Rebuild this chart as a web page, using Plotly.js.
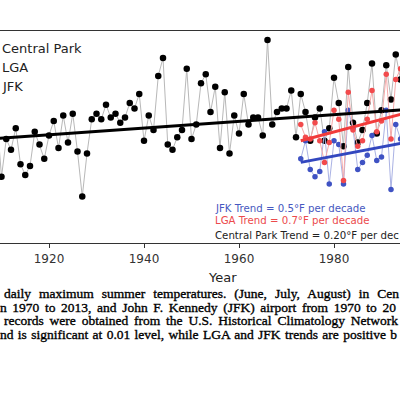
<!DOCTYPE html>
<html>
<head>
<meta charset="utf-8">
<script src="https://cdn.plot.ly/plotly-3.0.1.min.js"></script>
<style>
  html, body { margin:0; padding:0; background:#fff; overflow:hidden; }
  #chart { position:absolute; left:0; top:0; width:400px; height:400px; }
  #caption { position:absolute; left:0; top:0; width:400px; height:400px; overflow:hidden; pointer-events:none; }
  .capline { position:absolute; font-family:'Liberation Serif', 'DejaVu Serif', serif; font-size:13.5px; line-height:14px; color:#000; -webkit-text-stroke:0.35px #000; text-align:justify; text-align-last:justify; white-space:normal; }
</style>
</head>
<body>
<div id="chart"></div>
<div id="caption"></div>
<script>
// ---- Data ----
const cpYears = [1909,1910,1911,1912,1913,1914,1915,1916,1917,1918,1919,
  1920,1921,1922,1923,1924,1925,1926,1927,1928,1929,
  1930,1931,1932,1933,1934,1935,1936,1937,1938,1939,
  1940,1941,1942,1943,1944,1945,1946,1947,1948,1949,
  1950,1951,1952,1953,1954,1955,1956,1957,1958,1959,
  1960,1961,1962,1963,1964,1965,1966,1967,1968,1969,
  1970,1971,1972,1973,1974,1975,1976,1977,1978,1979,
  1980,1981,1982,1983,1984,1985,1986,1987,1988,1989,
  1990,1991,1992,1993,1994];
const cpTemps = [83.3,79.9,82.0,81.4,82.6,80.6,80.0,80.5,82.4,81.7,80.9,
  82.2,83.0,81.5,83.3,81.8,83.4,81.3,78.8,81.2,83.1,
  83.4,83.1,83.9,83.2,83.4,82.9,83.2,84.0,83.7,84.5,
  81.9,83.3,82.5,85.5,86.5,81.7,81.4,82.1,82.5,85.9,
  82.0,82.8,85.1,85.6,83.5,84.9,81.5,84.6,81.2,83.3,
  82.3,84.5,82.8,83.2,83.2,82.2,87.5,82.8,83.5,83.7,
  83.7,84.7,82.1,84.5,83.5,81.9,83.2,83.7,81.9,82.6,
  85.4,84.0,81.6,86.0,82.9,81.8,82.5,84.0,86.2,82.3,
  83.6,86.1,84.2,86.7,85.3];

const airportYears = [1973,1974,1975,1976,1977,1978,1979,1980,1981,1982,1983,
  1984,1985,1986,1987,1988,1989,1990,1991,1992,1993,1994];
const lgaTemps = [82.8,82.1,82.0,82.9,81.9,80.7,81.8,83.6,83.1,79.7,84.6,
  82.5,81.6,81.9,83.1,84.7,82.4,83.0,85.6,82.0,85.3,85.9];
const jfkTemps = [80.9,81.9,80.3,79.9,80.2,82.4,79.5,81.9,81.7,79.5,83.6,
  82.6,80.3,80.7,81.1,82.2,80.8,81.0,83.6,79.2,82.8,82.0];

const cpTrendYears = [1900, 2013];
const cpTrendTemps = [81.86, 83.97];
const lgaTrendYears = [1973, 2013];
const lgaTrendTemps = [81.9, 84.7];
const jfkTrendYears = [1973, 2013];
const jfkTrendTemps = [80.7, 82.7];

const tickYears = [1920, 1940, 1960, 1980, 2000];
const legendNames = ['Central Park', 'LGA', 'JFK'];
const trendTexts = ['JFK Trend = 0.5°F per decade', 'LGA Trend = 0.7°F per decade', 'Central Park Trend = 0.20°F per dec'];
const xTitle = 'Year';

// ---- Layout helpers ----
const PLOT_TOP = 31, PLOT_BOTTOM = 243, PLOT_W = 400;
function py(p) { return (PLOT_BOTTOM - p) / (PLOT_BOTTOM - PLOT_TOP); }
function px(p) { return p / PLOT_W; }

const traces = [
  { x: cpYears, y: cpTemps, mode: 'lines+markers', type: 'scatter',
    line: { color: '#b8b8b8', width: 1 }, marker: { color: '#000', size: 6.5 } },
  { x: airportYears, y: jfkTemps, mode: 'lines+markers', type: 'scatter',
    line: { color: '#aab2e4', width: 1 }, marker: { color: '#3f52c3', size: 5.5 } },
  { x: airportYears, y: lgaTemps, mode: 'lines+markers', type: 'scatter',
    line: { color: '#f5a9a9', width: 1 }, marker: { color: '#f24a4c', size: 5.5 } },
  { x: cpTrendYears, y: cpTrendTemps, mode: 'lines', type: 'scatter',
    line: { color: '#000', width: 3 } },
  { x: lgaTrendYears, y: lgaTrendTemps, mode: 'lines', type: 'scatter',
    line: { color: '#f23b3b', width: 3 } },
  { x: jfkTrendYears, y: jfkTrendTemps, mode: 'lines', type: 'scatter',
    line: { color: '#3347bf', width: 3 } }
];

const annFont = 'DejaVu Sans, sans-serif';
const annotations = [
  { text: legendNames[0], x: px(-0.5), y: py(48.2), color: '#222', size: 13 },
  { text: legendNames[1], x: px(-0.5), y: py(67.2), color: '#222', size: 13 },
  { text: legendNames[2], x: px(-0.5), y: py(86.5), color: '#222', size: 13 },
  { text: trendTexts[0], x: px(213), y: py(208.3), color: '#4658c0', size: 10.2 },
  { text: trendTexts[1], x: px(213), y: py(220.8), color: '#ec4a4c', size: 10.2 },
  { text: trendTexts[2], x: px(213), y: py(235.6), color: '#222', size: 10.2 }
].map(a => ({
  text: a.text, x: a.x, y: a.y, xref: 'paper', yref: 'paper',
  xanchor: 'left', yanchor: 'middle', showarrow: false,
  font: { family: annFont, size: a.size, color: a.color }
}));
annotations.push({
  text: xTitle, x: px(222.7), y: py(277.2), xref: 'paper', yref: 'paper',
  xanchor: 'center', yanchor: 'middle', showarrow: false,
  font: { family: annFont, size: 13, color: '#222' }
});

const layout = {
  width: 400, height: 400,
  margin: { l: 0, r: 0, t: PLOT_TOP, b: 400 - PLOT_BOTTOM, pad: 0 },
  paper_bgcolor: '#fff', plot_bgcolor: '#fff',
  showlegend: false,
  font: { family: annFont, color: '#222' },
  xaxis: {
    range: [1909.684, 1993.895], showline: true, mirror: true,
    linecolor: '#333', linewidth: 1.3, ticks: 'outside', ticklen: 4,
    tickwidth: 1, tickcolor: '#333', tickvals: tickYears,
    ticktext: tickYears.map(String),
    tickfont: { family: annFont, size: 12, color: '#333' },
    showgrid: false, zeroline: false
  },
  yaxis: {
    range: [76.222, 88], showline: false, showticklabels: false,
    ticks: '', showgrid: false, zeroline: false
  },
  annotations: annotations
};

Plotly.newPlot('chart', traces, layout, { displayModeBar: false, staticPlot: true });

// ---- Caption (visible part of the cropped, justified caption) ----
const captionLines = [
  { text: 'daily maximum summer temperatures. (June, July, August) in Cen', left: 4, right: 399, baseline: 298.5 },
  { text: 'n 1970 to 2013, and John F. Kennedy (JFK) airport from 1970 to 20', left: 0, right: 396, baseline: 312.3 },
  { text: 'records were obtained from the U.S. Historical Climatology Network', left: 4, right: 398, baseline: 326 },
  { text: 'nd is significant at 0.01 level, while LGA and JFK trends are positive b', left: 0, right: 397, baseline: 340 }
];
const cap = document.getElementById('caption');
captionLines.forEach(l => {
  const d = document.createElement('div');
  d.className = 'capline';
  d.style.left = l.left + 'px';
  d.style.top = (l.baseline - 11.6) + 'px';
  d.style.width = (l.right - l.left) + 'px';
  d.textContent = l.text;
  cap.appendChild(d);
  let fs = 13.5;
  while (d.getBoundingClientRect().height > 20 && fs > 9) {
    fs -= 0.25;
    d.style.fontSize = fs + 'px';
  }
});
</script>
</body>
</html>
